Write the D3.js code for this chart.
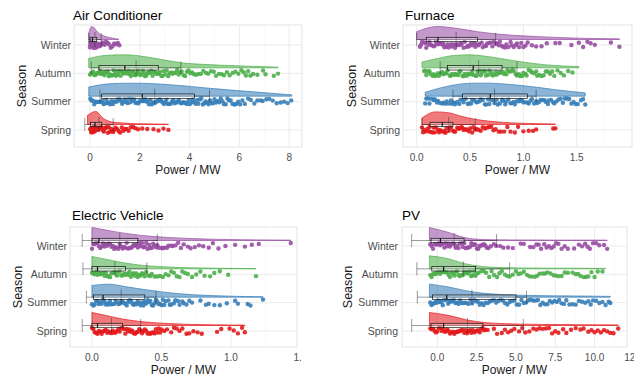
<!DOCTYPE html>
<html>
<head>
<meta charset="utf-8">
<script src="https://cdn.jsdelivr.net/npm/d3@7"></script>
<style>
  body { margin: 0; background: #fff; }
  svg { display: block; font-family: "Liberation Sans", Arial, Helvetica, sans-serif; }
</style>
</head>
<body>
<svg id="chart" width="643" height="377"></svg>
<script>
// seasons, top to bottom, and their Set1 colours
const seasons = ["Winter", "Autumn", "Summer", "Spring"];
const seasonColors = ["#984EA3", "#4DAF4A", "#377EB8", "#E41A1C"];

// ---------- Air Conditioner ----------
const acTicks = [0, 2, 4, 6, 8];
const acWinterPts = [0.0,0.02,0.03,0.05,0.06,0.08,0.09,0.11,0.12,0.14,0.15,0.17,0.19,0.21,0.23,0.25,0.27,0.3,0.33,0.36,0.39,0.42,0.46,0.5,0.54,0.59,0.64,0.7,0.76,0.83,0.9,0.97,1.05,1.12,1.18];
const acAutumnPts = [0.0,0.04,0.09,0.13,0.18,0.22,0.27,0.31,0.36,0.4,0.45,0.49,0.54,0.58,0.63,0.67,0.72,0.76,0.81,0.85,0.9,0.95,1.0,1.04,1.09,1.13,1.18,1.23,1.27,1.32,1.36,1.41,1.46,1.5,1.55,1.6,1.64,1.69,1.74,1.78,1.83,1.88,1.93,1.97,2.02,2.07,2.12,2.16,2.21,2.26,2.31,2.36,2.41,2.46,2.51,2.56,2.61,2.66,2.71,2.76,2.81,2.86,2.91,2.96,3.02,3.08,3.14,3.2,3.26,3.32,3.38,3.44,3.5,3.56,3.62,3.68,3.75,3.82,3.89,3.96,4.03,4.1,4.18,4.26,4.36,4.45,4.55,4.66,4.75,4.86,4.97,5.06,5.18,5.29,5.38,5.5,5.61,5.73,5.84,5.96,6.08,6.17,6.26,6.35,6.44,6.55,6.72,6.95,7.05,7.38,7.55];
const acSummerPts = [0.01,0.06,0.11,0.17,0.22,0.27,0.33,0.38,0.43,0.49,0.54,0.6,0.65,0.7,0.76,0.81,0.86,0.92,0.97,1.02,1.08,1.13,1.19,1.24,1.29,1.35,1.4,1.46,1.51,1.56,1.62,1.67,1.73,1.78,1.83,1.89,1.94,1.99,2.05,2.1,2.16,2.21,2.26,2.32,2.37,2.43,2.48,2.53,2.59,2.64,2.7,2.75,2.8,2.86,2.91,2.97,3.02,3.07,3.13,3.18,3.24,3.29,3.35,3.4,3.46,3.51,3.57,3.62,3.68,3.73,3.79,3.84,3.9,3.96,4.01,4.07,4.12,4.18,4.24,4.3,4.35,4.41,4.47,4.53,4.59,4.64,4.7,4.76,4.82,4.88,4.94,5.0,5.06,5.13,5.19,5.25,5.32,5.38,5.45,5.52,5.58,5.65,5.72,5.8,5.87,5.95,6.03,6.12,6.22,6.35,6.46,6.6,6.72,6.85,6.93,7.08,7.2,7.34,7.5,7.66,7.8,7.94,8.08];
const acSpringPts = [0.01,0.03,0.05,0.06,0.08,0.1,0.12,0.13,0.15,0.17,0.19,0.21,0.23,0.26,0.29,0.32,0.35,0.39,0.43,0.47,0.52,0.56,0.6,0.64,0.68,0.72,0.76,0.8,0.85,0.89,0.93,0.97,1.03,1.09,1.15,1.21,1.28,1.34,1.41,1.47,1.55,1.64,1.73,1.82,1.93,2.1,2.3,2.55,2.75,2.95,3.15];
const acRange = [[-0.05, 1.15], [-0.05, 7.55], [-0.05, 8.1], [-0.1, 3.15]];
const acDens = [
  [0.5, 1.0, 0.85, 0.55, 0.38, 0.28, 0.2, 0.15, 0.1, 0.06, 0.03],
  [0.72, 0.97, 1.0, 0.85, 0.6, 0.37, 0.27, 0.2, 0.15, 0.1, 0.05],
  [0.7, 0.95, 1.0, 0.97, 0.88, 0.75, 0.6, 0.47, 0.35, 0.22, 0.1],
  [0.7, 1.0, 0.45, 0.2, 0.13, 0.09, 0.06, 0.05, 0.04, 0.03, 0.02]
];
const acQ1 = [0.0, 0.36, 0.47, 0.02];
const acMed = [0.1, 1.4, 2.1, 0.2];
const acQ3 = [0.27, 2.74, 4.2, 0.47];
const acMean = [0.2, 1.85, 2.6, 0.36];
const acSd = [0.25, 1.8, 2.2, 0.57];

// ---------- Furnace ----------
const furnTicks = [0, 0.5, 1, 1.5];
const furnWinterPts = [0.03,0.04,0.05,0.07,0.08,0.09,0.11,0.12,0.13,0.14,0.16,0.17,0.18,0.2,0.21,0.22,0.24,0.25,0.26,0.28,0.29,0.3,0.32,0.33,0.34,0.36,0.37,0.38,0.4,0.41,0.42,0.44,0.45,0.47,0.48,0.49,0.51,0.52,0.54,0.55,0.56,0.58,0.59,0.61,0.62,0.64,0.65,0.66,0.68,0.69,0.71,0.72,0.74,0.75,0.77,0.78,0.8,0.81,0.83,0.84,0.86,0.88,0.89,0.91,0.93,0.94,0.96,0.98,1.0,1.02,1.04,1.08,1.12,1.17,1.22,1.3,1.34,1.45,1.52,1.56,1.6,1.63,1.67,1.82,1.9];
const furnAutumnPts = [0.07,0.08,0.09,0.11,0.12,0.13,0.15,0.16,0.17,0.19,0.2,0.21,0.23,0.24,0.25,0.27,0.28,0.29,0.31,0.32,0.33,0.35,0.36,0.37,0.39,0.4,0.41,0.43,0.44,0.45,0.47,0.48,0.49,0.51,0.52,0.53,0.55,0.56,0.57,0.59,0.6,0.61,0.63,0.64,0.65,0.67,0.68,0.7,0.71,0.72,0.74,0.75,0.77,0.78,0.79,0.81,0.82,0.84,0.85,0.87,0.88,0.9,0.91,0.93,0.94,0.96,0.97,0.99,1.0,1.02,1.03,1.05,1.07,1.08,1.1,1.12,1.13,1.15,1.17,1.19,1.21,1.23,1.25,1.27,1.29,1.32,1.35,1.38,1.42,1.46];
const furnSummerPts = [0.08,0.09,0.11,0.12,0.14,0.16,0.17,0.19,0.2,0.22,0.24,0.25,0.27,0.28,0.3,0.32,0.33,0.35,0.36,0.38,0.4,0.41,0.43,0.44,0.46,0.48,0.49,0.51,0.52,0.54,0.56,0.57,0.59,0.6,0.62,0.64,0.65,0.67,0.68,0.7,0.72,0.73,0.75,0.76,0.78,0.8,0.81,0.83,0.84,0.86,0.88,0.89,0.91,0.92,0.94,0.96,0.97,0.99,1.0,1.02,1.04,1.05,1.07,1.08,1.1,1.12,1.13,1.15,1.16,1.18,1.2,1.21,1.23,1.24,1.26,1.28,1.29,1.31,1.33,1.35,1.37,1.39,1.41,1.43,1.45,1.47,1.49,1.51,1.54,1.56,1.58];
const furnSpringPts = [0.05,0.06,0.07,0.08,0.1,0.11,0.12,0.13,0.15,0.16,0.17,0.18,0.2,0.21,0.22,0.23,0.25,0.26,0.27,0.28,0.3,0.31,0.32,0.34,0.35,0.36,0.38,0.39,0.4,0.42,0.43,0.44,0.46,0.47,0.49,0.5,0.52,0.53,0.55,0.56,0.58,0.6,0.62,0.64,0.66,0.68,0.7,0.72,0.74,0.77,0.79,0.82,0.85,0.88,0.92,0.95,1.0,1.05,1.09,1.12,1.28,1.3];
const furnRange = [[0.0, 1.9], [0.05, 1.52], [0.08, 1.58], [0.05, 1.3]];
const furnDens = [
  [0.6, 1.0, 0.85, 0.6, 0.42, 0.3, 0.22, 0.15, 0.1, 0.07, 0.05],
  [0.45, 0.72, 0.95, 1.0, 0.9, 0.72, 0.52, 0.35, 0.22, 0.14, 0.1],
  [0.3, 0.65, 0.9, 1.0, 1.0, 0.93, 0.82, 0.68, 0.52, 0.38, 0.25],
  [0.5, 0.97, 0.9, 0.62, 0.4, 0.26, 0.17, 0.11, 0.08, 0.06, 0.04]
];
const furnQ1 = [0.09, 0.29, 0.43, 0.125];
const furnMed = [0.2, 0.53, 0.69, 0.24];
const furnQ3 = [0.57, 0.8, 1.04, 0.34];
const furnMean = [0.37, 0.58, 0.73, 0.3];
const furnSd = [0.37, 0.36, 0.39, 0.25];

// ---------- Electric Vehicle ----------
const evTicks = [0, 0.5, 1, 1.5];
const evWinterPts = [0,0.01,0.02,0.03,0.04,0.05,0.06,0.07,0.08,0.09,0.1,0.11,0.12,0.13,0.14,0.15,0.16,0.17,0.18,0.19,0.2,0.21,0.22,0.23,0.24,0.25,0.26,0.27,0.28,0.29,0.3,0.31,0.32,0.33,0.34,0.35,0.36,0.37,0.38,0.39,0.4,0.41,0.42,0.43,0.44,0.45,0.46,0.47,0.48,0.5,0.51,0.52,0.54,0.55,0.57,0.58,0.6,0.62,0.64,0.66,0.69,0.71,0.74,0.77,0.8,0.84,0.87,0.91,0.96,1.03,1.1,1.15,1.2,1.43];
const evAutumnPts = [0,0.01,0.02,0.03,0.04,0.05,0.06,0.07,0.08,0.09,0.1,0.11,0.12,0.13,0.14,0.15,0.16,0.17,0.18,0.19,0.2,0.21,0.22,0.23,0.24,0.25,0.26,0.27,0.28,0.29,0.3,0.31,0.32,0.33,0.34,0.35,0.36,0.37,0.38,0.39,0.41,0.42,0.43,0.45,0.47,0.49,0.51,0.53,0.55,0.57,0.59,0.61,0.63,0.65,0.67,0.69,0.72,0.75,0.78,0.81,0.85,0.88,0.92,0.98,1.18];
const evSummerPts = [0,0.01,0.02,0.03,0.04,0.05,0.06,0.07,0.08,0.09,0.1,0.11,0.12,0.13,0.14,0.15,0.16,0.17,0.18,0.19,0.2,0.21,0.22,0.23,0.24,0.25,0.26,0.27,0.28,0.29,0.3,0.31,0.32,0.33,0.34,0.35,0.36,0.37,0.38,0.39,0.4,0.41,0.42,0.43,0.44,0.45,0.46,0.47,0.48,0.49,0.5,0.51,0.52,0.53,0.55,0.56,0.57,0.59,0.6,0.62,0.63,0.65,0.66,0.68,0.7,0.72,0.78,0.82,0.84,0.88,0.92,0.97,1.03,1.05,1.12,1.14,1.23];
const evSpringPts = [0,0.01,0.02,0.03,0.04,0.05,0.06,0.07,0.08,0.09,0.1,0.11,0.12,0.13,0.14,0.15,0.16,0.17,0.18,0.19,0.2,0.21,0.22,0.23,0.24,0.25,0.26,0.27,0.28,0.29,0.3,0.31,0.32,0.33,0.34,0.35,0.36,0.37,0.38,0.39,0.4,0.41,0.42,0.43,0.44,0.45,0.46,0.47,0.48,0.49,0.5,0.52,0.54,0.57,0.59,0.61,0.63,0.65,0.68,0.7,0.73,0.76,0.79,0.9,0.93,0.99,1.02,1.05,1.08,1.1];
const evRange = [[0, 1.43], [0, 1.18], [0, 1.23], [0, 1.1]];
const evDens = [
  [1.0, 0.72, 0.48, 0.32, 0.22, 0.15, 0.1, 0.07, 0.05, 0.04, 0.03],
  [0.95, 0.7, 0.45, 0.28, 0.18, 0.12, 0.08, 0.06, 0.04, 0.03, 0.02],
  [0.9, 1.0, 0.8, 0.6, 0.42, 0.28, 0.18, 0.12, 0.08, 0.05, 0.03],
  [1.0, 0.75, 0.5, 0.33, 0.22, 0.15, 0.1, 0.07, 0.05, 0.04, 0.03]
];
const evQ1 = [0, 0, 0.01, 0];
const evMed = [0.05, 0.04, 0.08, 0.04];
const evQ3 = [0.33, 0.24, 0.38, 0.22];
const evMean = [0.2, 0.165, 0.21, 0.14];
const evSd = [0.27, 0.23, 0.25, 0.21];

// ---------- PV ----------
const pvTicks = [0, 2.5, 5, 7.5, 10, 12.5];
const pvWinterPts = [-0.45,-0.36,-0.27,-0.18,-0.09,0.0,0.09,0.18,0.27,0.36,0.45,0.54,0.63,0.72,0.81,0.9,0.99,1.08,1.17,1.26,1.35,1.44,1.53,1.62,1.71,1.8,1.89,1.98,2.07,2.16,2.25,2.34,2.43,2.52,2.61,2.7,2.79,2.88,2.97,3.06,3.15,3.25,3.4,3.6,3.75,4.0,4.2,4.5,4.8,5.3,5.5,5.9,6.1,6.3,6.45,6.6,6.8,6.95,7.1,7.25,7.4,7.55,7.7,7.9,8.1,8.3,8.7,9.0,9.2,9.4,9.55,9.7,9.9,10.1,10.3,10.6,10.8];
const pvAutumnPts = [-0.45,-0.36,-0.27,-0.18,-0.09,0.0,0.09,0.18,0.27,0.36,0.45,0.54,0.63,0.72,0.81,0.9,0.99,1.08,1.17,1.26,1.35,1.44,1.53,1.62,1.71,1.8,1.89,1.98,2.07,2.16,2.25,2.34,2.43,2.52,2.62,2.8,2.95,3.1,3.3,3.45,3.6,3.8,3.95,4.1,4.3,4.45,4.6,4.8,5.0,5.15,5.3,5.5,5.7,5.85,6.0,6.2,6.35,6.5,6.7,6.85,7.0,7.2,7.4,7.55,7.7,7.9,8.1,8.3,8.6,8.8,8.95,9.1,9.3,9.45,9.6,9.8,10.0,10.2,10.5];
const pvSummerPts = [-0.45,-0.37,-0.29,-0.21,-0.13,-0.05,0.03,0.11,0.19,0.27,0.35,0.43,0.51,0.6,0.69,0.78,0.87,0.96,1.05,1.15,1.25,1.35,1.45,1.55,1.66,1.77,1.88,1.99,2.1,2.22,2.34,2.46,2.58,2.7,2.82,2.95,3.08,3.21,3.34,3.47,3.6,3.74,3.88,4.02,4.16,4.3,4.45,4.6,4.75,4.9,5.05,5.2,5.35,5.5,5.65,5.8,5.95,6.1,6.25,6.4,6.55,6.7,6.85,7.0,7.15,7.3,7.45,7.6,7.75,7.9,8.05,8.2,8.4,8.6,8.8,9.0,9.2,9.4,9.6,9.75,9.9,10.1,10.3,10.5,10.7,10.9,11.0];
const pvSpringPts = [-0.45,-0.36,-0.27,-0.18,-0.09,0.0,0.09,0.18,0.27,0.36,0.45,0.54,0.63,0.72,0.81,0.9,0.99,1.08,1.17,1.26,1.35,1.44,1.53,1.62,1.71,1.8,1.89,1.98,2.07,2.16,2.25,2.34,2.43,2.52,2.61,2.7,2.79,2.88,2.97,3.06,3.2,3.6,3.8,4.1,4.3,4.5,4.7,4.9,5.2,5.4,5.6,5.85,6.1,6.3,6.5,6.7,6.9,7.1,7.3,7.5,7.7,8.0,8.2,8.5,8.8,9.1,9.3,9.6,9.8,10.0,10.2,10.4,10.6,10.8,11.0,11.2,11.5];
const pvRange = [[-0.5, 10.8], [-0.5, 10.7], [-0.5, 11.0], [-0.5, 11.5]];
const pvDens = [
  [1.0, 0.65, 0.22, 0.08, 0.05, 0.04, 0.04, 0.03, 0.03, 0.03, 0.03],
  [1.0, 0.8, 0.4, 0.18, 0.1, 0.07, 0.06, 0.05, 0.05, 0.04, 0.03],
  [1.0, 0.8, 0.5, 0.3, 0.2, 0.15, 0.12, 0.1, 0.09, 0.08, 0.06],
  [1.0, 0.78, 0.42, 0.22, 0.14, 0.1, 0.08, 0.07, 0.06, 0.05, 0.04]
];
const pvQ1 = [-0.4, -0.35, -0.3, -0.4];
const pvMed = [0.2, 0.4, 0.6, 0.4];
const pvQ3 = [1.7, 2.44, 5.0, 2.9];
const pvMean = [1.07, 1.65, 2.2, 1.92];
const pvSd = [2.7, 2.95, 3.47, 3.55];

const svg = d3.select("#chart");
const fmt1 = d3.format(".1f");

// vertical jitter for the rain, deterministic so the picture is stable
function jitter(i, si) {
  var v = Math.sin((i + 1) * 12.9898 + si * 78.233) * 43758.5453;
  return v - Math.floor(v);
}

var panels = [
  { title: "Air Conditioner", pts: [acWinterPts, acAutumnPts, acSummerPts, acSpringPts],
    range: acRange, dens: acDens, q1: acQ1, med: acMed, q3: acQ3, mean: acMean, sd: acSd,
    ticks: acTicks, fmt: d3.format("d"), domain: [-0.643, 8.514],
    left: 74, right: 302, top: 25, bottom: 147, yTop: 45, yBot: 130, labX: 71, seasonX: 22,
    titleX: 73, titleY: 19.5, tickY: 161, axY: 174, clip: [0, 0, 320, 188] },
  { title: "Furnace", pts: [furnWinterPts, furnAutumnPts, furnSummerPts, furnSpringPts],
    range: furnRange, dens: furnDens, q1: furnQ1, med: furnMed, q3: furnQ3, mean: furnMean, sd: furnSd,
    ticks: furnTicks, fmt: fmt1, domain: [-0.128, 2.018],
    left: 403, right: 632, top: 25, bottom: 147, yTop: 45, yBot: 130, labX: 400, seasonX: 352,
    titleX: 405, titleY: 19.5, tickY: 161, axY: 174, clip: [320, 0, 323, 188] },
  { title: "Electric Vehicle", pts: [evWinterPts, evAutumnPts, evSummerPts, evSpringPts],
    range: evRange, dens: evDens, q1: evQ1, med: evMed, q3: evQ3, mean: evMean, sd: evSd,
    ticks: evTicks, fmt: fmt1, domain: [-0.158, 1.475],
    left: 70, right: 297, top: 227, bottom: 347, yTop: 246, yBot: 331, labX: 67, seasonX: 18,
    titleX: 72, titleY: 219.5, tickY: 361, axY: 374, clip: [0, 190, 302, 187] },
  { title: "PV", pts: [pvWinterPts, pvAutumnPts, pvSummerPts, pvSpringPts],
    range: pvRange, dens: pvDens, q1: pvQ1, med: pvMed, q3: pvQ3, mean: pvMean, sd: pvSd,
    ticks: pvTicks, fmt: fmt1, domain: [-2.244, 12.06],
    left: 402, right: 627, top: 227, bottom: 347, yTop: 246, yBot: 331, labX: 398, seasonX: 348,
    titleX: 402, titleY: 219.5, tickY: 361, axY: 374, clip: [320, 190, 314, 187] }
];

panels.forEach(function(p, pi) {
  var g = svg.append("g");
  var x = d3.scaleLinear().domain(p.domain).range([p.left, p.right]);
  var y = d3.scalePoint().domain(seasons).range([p.yTop, p.yBot]);
  var hgt = d3.scaleLinear().domain([0, 1]).range([0, 13]);

  // panel + grid
  g.append("rect")
    .attr("x", p.left).attr("y", p.top)
    .attr("width", p.right - p.left).attr("height", p.bottom - p.top)
    .attr("fill", "#fff").attr("stroke", "#dcdcdc").attr("stroke-width", 0.8);

  var step = p.ticks[1] - p.ticks[0];
  var minor = d3.range(-1, p.ticks.length).map(i => p.ticks[0] + step * (i + 0.5))
    .filter(v => v > p.domain[0] && v < p.domain[1]);
  var major = p.ticks.filter(v => v > p.domain[0] && v < p.domain[1]);

  g.selectAll(".minor").data(minor).enter().append("line")
    .attr("x1", d => x(d)).attr("x2", d => x(d))
    .attr("y1", p.top).attr("y2", p.bottom)
    .attr("stroke", "#f0f0f0").attr("stroke-width", 0.5);
  g.selectAll(".major").data(major).enter().append("line")
    .attr("x1", d => x(d)).attr("x2", d => x(d))
    .attr("y1", p.top).attr("y2", p.bottom)
    .attr("stroke", "#e6e6e6").attr("stroke-width", 0.8);
  g.selectAll(".hgrid").data(seasons).enter().append("line")
    .attr("x1", p.left).attr("x2", p.right)
    .attr("y1", d => y(d)).attr("y2", d => y(d))
    .attr("stroke", "#e6e6e6").attr("stroke-width", 0.8);

  seasons.forEach(function(s, si) {
    var col = seasonColors[si];
    var base = y(s) - 5.5;
    var lo = p.range[si][0], hi = p.range[si][1];
    var dv = p.dens[si];
    var dpts = dv.map((v, i) => [lo + (hi - lo) * i / (dv.length - 1), v]);

    // half violin (cloud)
    var area = d3.area()
      .x(d => x(d[0]))
      .y0(base)
      .y1(d => base - hgt(d[1]))
      .curve(d3.curveMonotoneX);
    g.append("path").datum(dpts)
      .attr("d", area)
      .attr("fill", col).attr("fill-opacity", 0.58)
      .attr("stroke", col).attr("stroke-width", 0.7);

    // rain: jittered points below the cloud
    g.append("g").selectAll("circle").data(p.pts[si]).enter().append("circle")
      .attr("cx", d => x(d))
      .attr("cy", (d, i) => y(s) - 0.2 + (jitter(i, si + 4 * pi) - 0.5) * 6.2)
      .attr("r", 2.2)
      .attr("fill", col).attr("fill-opacity", 0.9);

    // mean +/- sd
    var m = p.mean[si], sd = p.sd[si];
    var eb = g.append("g").attr("stroke", "#222").attr("stroke-opacity", 0.75).attr("stroke-width", 0.6);
    eb.append("line").attr("x1", x(m - sd)).attr("x2", x(m + sd)).attr("y1", base).attr("y2", base);
    [m - sd, m + sd].forEach(function(v) {
      eb.append("line").attr("x1", x(v)).attr("x2", x(v)).attr("y1", base - 6.5).attr("y2", base + 6.5);
    });
    eb.append("line").attr("x1", x(m)).attr("x2", x(m)).attr("y1", base - 7.5).attr("y2", base + 7.5);

    // box
    g.append("rect")
      .attr("x", x(p.q1[si])).attr("y", base - 2.2)
      .attr("width", x(p.q3[si]) - x(p.q1[si])).attr("height", 4.4)
      .attr("fill", "#fff").attr("fill-opacity", 0.3)
      .attr("stroke", "#111").attr("stroke-width", 0.7);
    g.append("line")
      .attr("x1", x(p.med[si])).attr("x2", x(p.med[si]))
      .attr("y1", base - 2.2).attr("y2", base + 2.2)
      .attr("stroke", "#111").attr("stroke-width", 1.2);
  });

  // y tick labels
  g.selectAll(".ylab").data(seasons).enter().append("text")
    .attr("x", p.labX).attr("y", d => y(d))
    .attr("dy", "0.35em")
    .attr("text-anchor", "end")
    .attr("font-size", 10.5).attr("fill", "#4d4d4d")
    .text(d => d);

  // x tick labels (clipped to the sub-figure like the original)
  var cid = "clip" + pi;
  svg.append("clipPath").attr("id", cid).append("rect")
    .attr("x", p.clip[0]).attr("y", p.clip[1]).attr("width", p.clip[2]).attr("height", p.clip[3]);
  g.append("g").attr("clip-path", "url(#" + cid + ")")
    .selectAll("text").data(p.ticks).enter().append("text")
    .attr("x", d => x(d)).attr("y", p.tickY)
    .attr("text-anchor", "middle")
    .attr("font-size", 10).attr("fill", "#4d4d4d")
    .text(d => p.fmt(d));

  // axis titles
  g.append("text")
    .attr("x", (p.left + p.right) / 2).attr("y", p.axY)
    .attr("text-anchor", "middle").attr("font-size", 12).attr("fill", "#1a1a1a")
    .text("Power / MW");
  g.append("text")
    .attr("transform", "translate(" + p.seasonX + "," + (p.top + p.bottom) / 2 + ") rotate(-90)")
    .attr("dy", "0.35em")
    .attr("text-anchor", "middle").attr("font-size", 12.5).attr("fill", "#1a1a1a")
    .text("Season");

  // title
  g.append("text")
    .attr("x", p.titleX).attr("y", p.titleY)
    .attr("font-size", 13.5).attr("fill", "#000")
    .text(p.title);
});
</script>
</body>
</html>
